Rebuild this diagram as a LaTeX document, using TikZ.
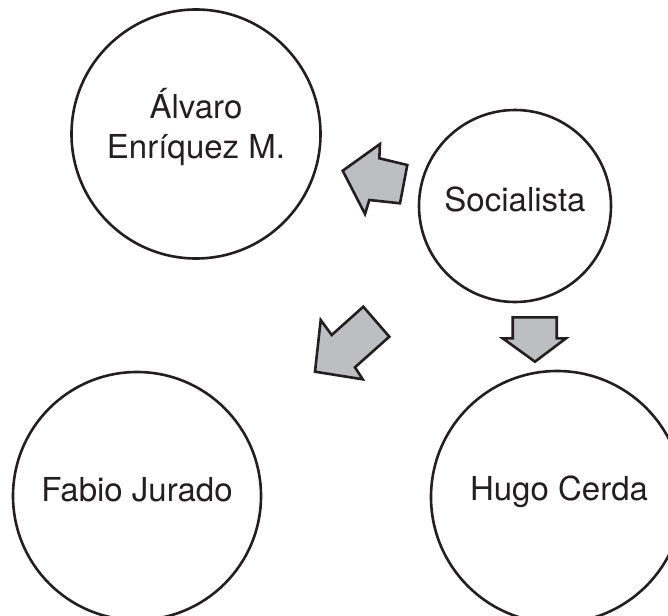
\documentclass[tikz,border=0pt]{standalone}
\usepackage{fontspec}
\setmainfont{TeX Gyre Heros}
\definecolor{ink}{RGB}{35,31,32}
\definecolor{arrowgray}{RGB}{189,190,193}
\begin{document}
\begin{tikzpicture}[x=1pt,y=-1pt,
  bubble/.style={circle,draw=ink,line width=2.6pt,inner sep=0pt},
  caption/.style={align=center,text=ink,inner sep=0pt,
    font=\fontsize{33}{40}\selectfont},
  blockarrow/.style={draw=ink,fill=arrowgray,line width=2.6pt,line join=miter}]
\useasboundingbox (0,0) rectangle (668,615);
\node[bubble,minimum size=249pt] (alvaro) at (196,134) {};
\node[bubble,minimum size=192pt] (soc) at (515,206) {};
\node[bubble,minimum size=248pt] (fabio) at (137,496) {};
\node[bubble,minimum size=252pt] (hugo) at (557,497) {};
\node[caption] (alvarotext) at ([yshift=7pt]alvaro.center) {Álvaro\\Enríquez M.};
\node[caption] (soctext) at ([yshift=7pt]soc.center) {Socialista};
\node[caption] (fabiotext) at ([yshift=6pt]fabio.center) {Fabio Jurado};
\node[caption] (hugotext) at ([yshift=5pt,xshift=2pt]hugo.center) {Hugo Cerda};
% arrow towards Alvaro
\draw[blockarrow] (342.7,170.7) -- (380,144) -- (379.3,158.3) -- (407.3,165)
  -- (400,203.3) -- (369.3,200) -- (365,214) -- cycle;
% arrow towards Fabio
\draw[blockarrow] (315,371.7) -- (320.7,320) -- (331.7,335) -- (363.3,306.7)
  -- (389.3,336.7) -- (355,367.3) -- (362.7,379.3) -- cycle;
% arrow towards Hugo
\draw[blockarrow] (512.7,317.3) -- (556.7,317.3) -- (556.7,338.3) -- (566,338.3)
  -- (535,361.7) -- (502.7,338.3) -- (512.7,338.3) -- cycle;
\end{tikzpicture}
\end{document}
